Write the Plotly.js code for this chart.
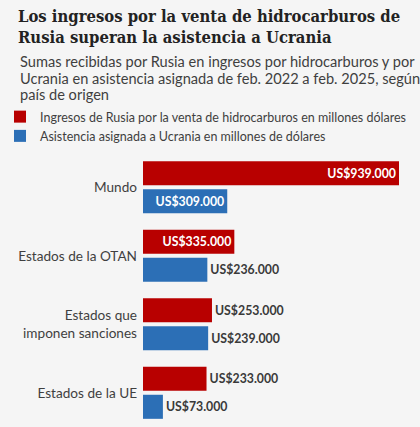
<!DOCTYPE html>
<html>
<head>
<meta charset="utf-8">
<script src="https://cdn.plot.ly/plotly-3.0.1.min.js"></script>
<style>
html,body{margin:0;padding:0;background:#f5f5f5;}
#chart{width:420px;height:427px;}
</style>
</head>
<body>
<div id="chart"></div>
<script>
var categories = ["Mundo", "Estados de la OTAN", "Estados que<br>imponen sanciones", "Estados de la UE"];
var russiaRevenue = [939000, 335000, 253000, 233000];
var ukraineAid = [309000, 236000, 239000, 73000];
var russiaLabels = ["US$939.000", "US$335.000", "US$253.000", "US$233.000"];
var ukraineLabels = ["US$309.000", "US$236.000", "US$239.000", "US$73.000"];
var seriesNames = ["Ingresos de Rusia por la venta de hidrocarburos en millones dólares", "Asistencia asignada a Ucrania en millones de dólares"];
var titleLines = ["Los ingresos por la venta de hidrocarburos de", "Rusia superan la asistencia a Ucrania"];
var subtitleLines = ["Sumas recibidas por Rusia en ingresos por hidrocarburos y por", "Ucrania en asistencia asignada de feb. 2022 a feb. 2025, según", "país de origen"];

var RED = "#b80000", BLUE = "#2c6fb6", DARK = "#3a3a3a", BG = "#f5f5f5";
var sans = "Lato, 'Liberation Sans', sans-serif";

var textFont = {family: sans, size: 12.3, weight: "bold"};

var trRed = {
  type: "bar", orientation: "h", name: seriesNames[0],
  y: categories, x: russiaRevenue, text: russiaLabels,
  texttemplate: "%{text}", hoverinfo: "none",
  marker: {color: RED},
  textposition: ["inside", "inside", "outside", "outside"],
  insidetextanchor: "end",
  insidetextfont: Object.assign({}, textFont, {color: "#ffffff"}),
  outsidetextfont: Object.assign({}, textFont, {color: DARK}),
  cliponaxis: false
};
var trBlue = {
  type: "bar", orientation: "h", name: seriesNames[1],
  y: categories, x: ukraineAid, text: ukraineLabels,
  texttemplate: "%{text}", hoverinfo: "none",
  marker: {color: BLUE},
  textposition: ["inside", "outside", "outside", "outside"],
  insidetextanchor: "end",
  insidetextfont: Object.assign({}, textFont, {color: "#ffffff"}),
  outsidetextfont: Object.assign({}, textFont, {color: DARK}),
  cliponaxis: false
};

var L = 143, R = 10, W = 420 - L - R;
var pxPerUnit = 256 / 939000;
var xMax = W / pxPerUnit;
var T = 153, B = 0, H = 427 - T - B;

function paperX(px){ return (px - L) / W; }
function paperY(py){ return 1 + (T - py) / H; }

var annotations = subtitleLines.map(function(s, i){
  return {
    text: s, xref: "paper", yref: "paper",
    x: paperX(18), y: paperY(62 + i * 16.3),
    xanchor: "left", yanchor: "middle", showarrow: false,
    font: {family: sans, size: 14.6, color: "#3f3f3f"}
  };
});

var layout = {
  width: 420, height: 427,
  paper_bgcolor: BG, plot_bgcolor: BG,
  margin: {l: L, r: R, t: T, b: B, autoexpand: false},
  title: {
    text: titleLines.join("<br>"),
    xref: "container", yref: "container",
    x: 18 / 420, xanchor: "left",
    y: 1 - 22 / 427, yanchor: "top",
    font: {family: "'DejaVu Serif Condensed', 'DejaVu Serif', serif", stretch: "condensed", size: 16.5, weight: "bold", color: "#222222"}
  },
  barmode: "group", bargap: 0.18, bargroupgap: 0.143,
  xaxis: {range: [0, xMax], visible: false, fixedrange: true},
  yaxis: {
    autorange: "reversed", showgrid: false, zeroline: false, showline: false,
    ticks: "", ticklabelstandoff: 5,
    tickfont: {family: sans, size: 13.6, color: "#3f3f3f"}, fixedrange: true
  },
  showlegend: true,
  legend: {
    xref: "container", yref: "container",
    x: 0, xanchor: "left",
    y: 1 - 102 / 427, yanchor: "top",
    font: {family: sans, size: 12.5, color: "#3f3f3f"},
    bgcolor: "rgba(0,0,0,0)", borderwidth: 0,
    traceorder: "normal", itemwidth: 30, itemclick: false, itemdoubleclick: false
  },
  annotations: annotations
};

Plotly.newPlot("chart", [trRed, trBlue], layout, {displayModeBar: false, staticPlot: true});
</script>
</body>
</html>
